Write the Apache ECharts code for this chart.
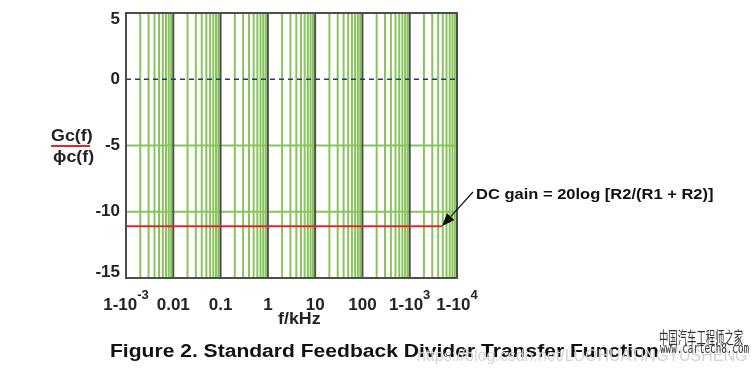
<!DOCTYPE html>
<html>
<head>
<meta charset="utf-8">
<script src="https://cdn.jsdelivr.net/npm/echarts@6/dist/echarts.min.js"></script>
<style>html,body{margin:0;padding:0;background:#fff}#c{width:755px;height:380px}</style>
</head>
<body>
<div id="c"></div>
<script>
// ---- data ----
const decades = [0.001, 0.01, 0.1, 1, 10, 100, 1000, 10000];
const minorMultipliers = [2, 3, 4, 5, 6, 7, 8, 9];
const xTickLabels = ['{b|1-10}{s|-3}', '{b|0.01}', '{b|0.1}', '{b|1}', '{b|10}', '{b|100}', '{b|1-10}{s|3}', '{b|1-10}{s|4}'];
const yTicks = [-15, -10, -5, 0, 5];
const yGreenLines = [-10, -5];
const dcFreq = [0.001, 4800];
const dcGain = [-11.1, -11.1];
const annotation = 'DC gain = 20log [R2/(R1 + R2)]';
const caption = 'Figure 2. Standard Feedback Divider Transfer Function';

const GREEN = '#88c45c';
const DARK = '#4d4d4d';
const yMin = yTicks[0], yMax = yTicks[yTicks.length - 1];
const xMin = decades[0], xMax = decades[decades.length - 1];

const series = [];
function vLine(x, color, width, z) {
  series.push({ type: 'line', data: [[x, yMin], [x, yMax]], symbol: 'none', silent: true, z: z,
    lineStyle: { color: color, width: width }, clip: false });
}
function hLine(y, color, width, type, z) {
  series.push({ type: 'line', data: [[xMin, y], [xMax, y]], symbol: 'none', silent: true, z: z,
    lineStyle: { color: color, width: width, type: type }, clip: false });
}
decades.slice(0, -1).forEach(d => minorMultipliers.forEach(m => vLine(d * m, GREEN, 2, 1)));
yGreenLines.forEach(v => hLine(v, GREEN, 2, 'solid', 2));
decades.slice(1, -1).forEach(d => vLine(d, DARK, 2, 3));
hLine(0, '#1f3f6e', 1.5, [5, 4], 4);
series.push({ type: 'line', data: dcFreq.map((f, i) => [f, dcGain[i]]), symbol: 'none', z: 5,
  lineStyle: { color: '#e3262b', width: 2 } });

const chart = echarts.init(document.getElementById('c'), null, { renderer: 'canvas' });
const font = 'Arial, "Liberation Sans", sans-serif';
const yl = { fontFamily: font, fontWeight: 'bold', fontSize: 17, color: '#222' };

chart.setOption({
  animation: false,
  backgroundColor: '#fff',
  grid: { left: 126, right: 298, top: 13, bottom: 102, show: true, borderColor: DARK, borderWidth: 2, backgroundColor: 'transparent', z: 6 },
  xAxis: {
    type: 'log', logBase: 10, min: xMin, max: xMax,
    axisLine: { show: false }, axisTick: { show: false }, splitLine: { show: false },
    axisLabel: {
      margin: 12,
      formatter: v => xTickLabels[Math.round(Math.log10(v)) + 3] || '',
      rich: {
        b: { fontFamily: font, fontWeight: 'bold', fontSize: 17, color: '#222', lineHeight: 20, padding: [10, 0, 0, 0] },
        s: { fontFamily: font, fontWeight: 'bold', fontSize: 13, color: '#222', lineHeight: 14, padding: [0, 0, 10, 0] }
      }
    }
  },
  yAxis: {
    type: 'value', min: yMin, max: yMax, interval: 5,
    axisLine: { show: false }, axisTick: { show: false }, splitLine: { show: false },
    axisLabel: {
      margin: 6,
      formatter: v => v === yMax ? '{t|' + v + '}' : (v === yMin ? '{u|' + v + '}' : '{n|' + v + '}'),
      rich: {
        n: yl,
        t: Object.assign({}, yl, { padding: [12, 0, 0, 0] }),
        u: Object.assign({}, yl, { padding: [0, 0, 12, 0] })
      }
    }
  },
  series: series
});

const tip = chart.convertToPixel({ gridIndex: 0 }, [dcFreq[1], dcGain[1]]);
const tail = [473, 192];
const ang = Math.atan2(tip[1] - tail[1], tip[0] - tail[0]);
const L = 13, W = 5;
const bx = tip[0] - L * Math.cos(ang), by = tip[1] - L * Math.sin(ang);
const px = -Math.sin(ang) * W, py = Math.cos(ang) * W;

chart.setOption({
  graphic: [
    { type: 'line', shape: { x1: tail[0], y1: tail[1], x2: bx, y2: by }, style: { stroke: '#111', lineWidth: 1.2 }, z: 10 },
    { type: 'polygon', shape: { points: [[tip[0], tip[1]], [bx + px, by + py], [bx - px, by - py]] }, style: { fill: '#111' }, z: 10 },
    { type: 'text', x: 476, y: 187, scaleX: 1.1, style: { text: annotation, font: 'bold 15px ' + font, fill: '#111' }, z: 10 },
    { type: 'text', x: 51, y: 128, scaleX: 1.05, style: { text: 'Gc(f)', font: 'bold 17px ' + font, fill: '#222' } },
    { type: 'rect', shape: { x: 51, y: 145, width: 39, height: 2 }, style: { fill: '#e3262b' } },
    { type: 'text', x: 53, y: 149, scaleX: 1.05, style: { text: '\u03d5c(f)', font: 'bold 17px ' + font, fill: '#222' } },
    { type: 'text', x: 278, y: 311, scaleX: 1.05, style: { text: 'f/kHz', font: 'bold 17px ' + font, fill: '#222' } },
    { type: 'text', x: 110, y: 343, scaleX: 1.17, style: { text: caption, font: 'bold 18px ' + font, fill: '#111' } },
    { type: 'text', x: 417, y: 349, style: { text: 'https://blog.csdn.net/LUOHUATINGYUSHENG', font: '16px ' + font, fill: '#d4d4d4' }, z: 11 },
    { type: 'text', x: 659, y: 329, scaleX: 0.55, style: { text: '中国汽车工程师之家', font: '17px "Noto Sans CJK SC"', fill: '#333' }, z: 12 },
    { type: 'text', x: 660, y: 342, scaleX: 0.66, style: { text: 'www.cartech8.com', font: '14px "DejaVu Sans Mono"', fill: '#333' }, z: 12 }
  ]
});
</script>
</body>
</html>
